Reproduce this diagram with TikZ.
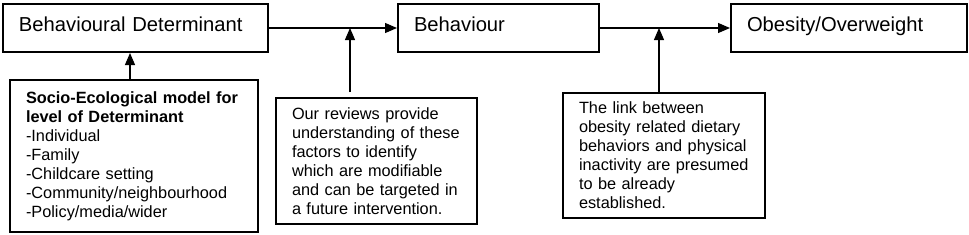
\documentclass[tikz,border=0pt]{standalone}
\usepackage{fontspec}
\setmainfont{Liberation Sans}
\usetikzlibrary{arrows.meta,positioning}

\begin{document}
\begin{tikzpicture}[x=1pt, y=-1pt,
        stagebox/.style={rectangle, draw=black, line width=2pt, minimum height=48pt,
                         inner xsep=16pt, align=left, text height=15pt, text depth=9pt,
                         font=\fontsize{20.2}{24}\selectfont},
        notebox/.style={rectangle, draw=black, line width=2pt, inner xsep=16pt,
                        align=left, font=\fontsize{16.3}{19}\selectfont},
        arr/.style={-{Triangle[length=12pt,width=10pt]}, line width=1.2pt}
      ]
        \useasboundingbox (0,0) rectangle (969,234);
        % top row
        \node[stagebox, text width=233pt] (det) at (135.5,28) {Behavioural Determinant};
        \node[stagebox, text width=169pt] (beh) at (498.5,28) {Behaviour};
        \node[stagebox, text width=204pt] (obes) at (849,28) {Obesity/Overweight};
        % notes below
        \node[notebox, text width=216pt, minimum height=152pt] (socio) at (134,156)
            {\textbf{Socio-Ecological model for}\\\textbf{level of Determinant}\\-Individual\\-Family\\-Childcare setting\\-Community/neighbourhood\\-Policy/media/wider};
        \node[notebox, text width=169pt, minimum height=126pt] (reviews) at (376.5,161)
            {Our reviews provide\\understanding of these\\factors to identify\\which are modifiable\\and can be targeted in\\a future intervention.};
        \node[notebox, text width=170pt, minimum height=125pt] (link) at (664,155.5)
            {The link between\\obesity related dietary\\behaviors and physical\\inactivity are presumed\\to be already\\established.};
        \coordinate (socin) at (130,0);
        \coordinate (revin) at (350,28);
        \coordinate (linkin) at (659,28);
        \draw[arr] (det.east) -- (beh.west);
        \draw[arr] (beh.east) -- (obes.west);
        \draw[arr] (socin |- socio.north) -- (socin |- det.south);
        \draw[arr] (revin |- reviews.north) ++(0,-5) -- (revin);
        \draw[arr] (linkin |- link.north) -- (linkin);
      \end{tikzpicture}
\end{document}
